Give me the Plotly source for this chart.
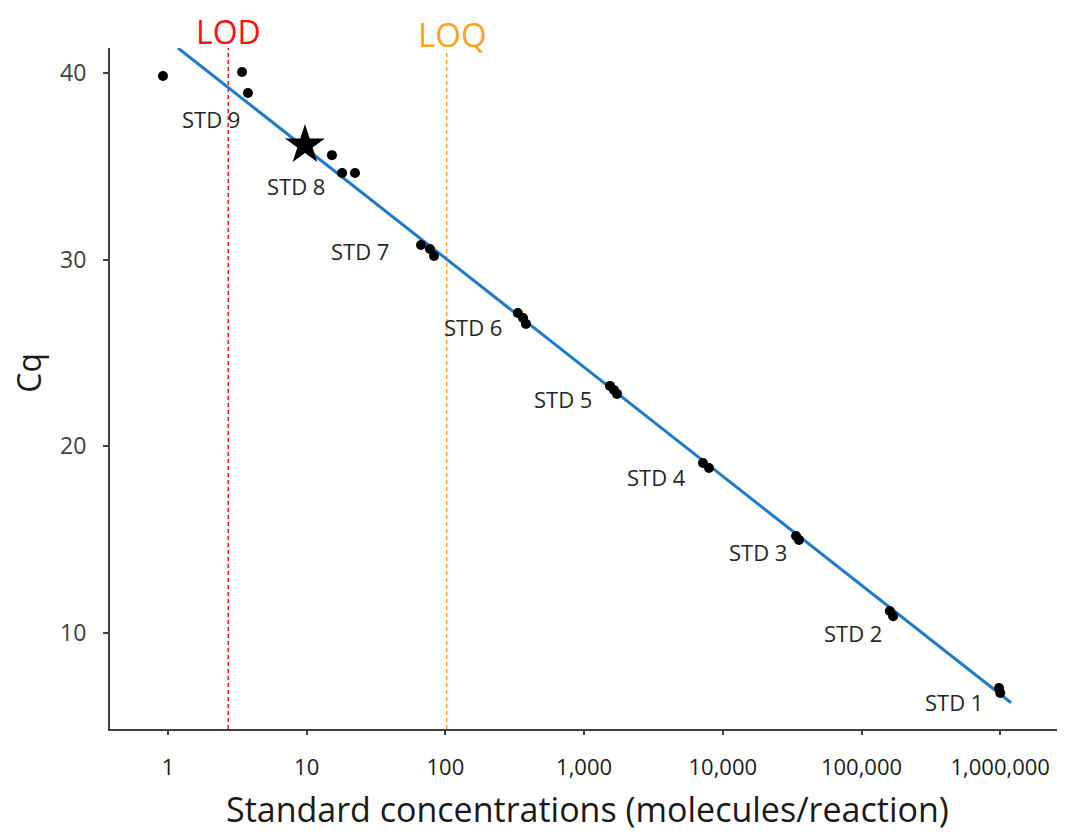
import plotly.graph_objects as go
import numpy as np

# ---- data ----
conc = [0.92, 3.42, 3.77, 15.2, 18.0, 22.3,
        66.7, 77.4, 82.8,
        333, 363, 381,
        1538, 1643, 1726,
        7197, 7950,
        33700, 35400,
        160000, 169000,
        980000, 1000000]
cq = [39.84, 40.05, 38.93, 35.6, 34.64, 34.64,
      30.79, 30.57, 30.2,
      27.14, 26.88, 26.56,
      23.24, 23.02, 22.81,
      19.11, 18.84,
      15.2, 14.99,
      11.18, 10.9,
      7.06, 6.79]

star_conc = [9.72]
star_cq = [36.14]

fit_slope = -5.84
fit_intercept = 41.76
fit_conc = [1.18, 1.197e6]

lod_conc = 2.72
loq_conc = 102

std_labels = ["STD 1", "STD 2", "STD 3", "STD 4", "STD 5",
              "STD 6", "STD 7", "STD 8", "STD 9"]
std_label_conc = [4.65e5, 8.7e4, 1.8e4, 3300, 705, 158, 24.2, 8.37, 2.04]
std_label_cq = [6.31, 10.0, 14.34, 18.36, 22.54, 26.40, 30.47, 33.95, 37.54]

x_tickvals = [1, 10, 100, 1000, 10000, 100000, 1000000]
x_ticktext = ["1", "10", "100", "1,000", "10,000", "100,000", "1,000,000"]
y_tickvals = [10, 20, 30, 40]

x_range_log = [-0.418, 6.467]
y_range = [4.86, 41.34]

FONT = "Open Sans"
AXC = "#404040"

fit_cq = [fit_intercept + fit_slope * np.log10(c) for c in fit_conc]

fig = go.Figure()

# LOD / LOQ vertical dashed lines
fig.add_trace(go.Scatter(x=[lod_conc, lod_conc], y=y_range, mode="lines",
                         line=dict(color="#FF1010", width=1.5, dash="4px,3px"),
                         hoverinfo="skip", showlegend=False))
fig.add_trace(go.Scatter(x=[loq_conc, loq_conc], y=[y_range[0], 41.2], mode="lines",
                         line=dict(color="#FFA01E", width=1.5, dash="4px,3px"),
                         hoverinfo="skip", showlegend=False))

# regression line
fig.add_trace(go.Scatter(x=fit_conc, y=fit_cq, mode="lines",
                         line=dict(color="#1F7BC8", width=3),
                         showlegend=False))

# points
fig.add_trace(go.Scatter(x=conc, y=cq, mode="markers",
                         marker=dict(color="black", size=10),
                         showlegend=False))
fig.add_trace(go.Scatter(x=star_conc, y=star_cq, mode="markers",
                         marker=dict(color="black", size=30, symbol="star"),
                         showlegend=False))

# STD labels
for lab, xc, yc in zip(std_labels, std_label_conc, std_label_cq):
    fig.add_annotation(x=np.log10(xc), y=yc, xref="x", yref="y", text=lab,
                       xanchor="center", yanchor="middle",
                       showarrow=False, font=dict(family=FONT, size=22, color="#262626"))

# LOD / LOQ titles
fig.add_annotation(x=np.log10(lod_conc), y=1.024, xref="x", yref="paper", text="LOD",
                   xanchor="center", yanchor="middle", borderpad=0,
                   showarrow=False, font=dict(family=FONT, size=32, color="#FF1010"))
fig.add_annotation(x=np.log10(loq_conc) + 0.04, y=1.020, xref="x", yref="paper", text="LOQ",
                   xanchor="center", yanchor="middle", borderpad=0,
                   showarrow=False, font=dict(family=FONT, size=33, color="#FFA01E"))

# axis titles
fig.add_annotation(x=0.5, y=-0.118, xref="paper", yref="paper",
                   text="Standard concentrations (molecules/reaction)",
                   xanchor="center", yanchor="middle", borderpad=0,
                   showarrow=False, font=dict(family=FONT, size=34, color="#1a1a1a"))
fig.add_annotation(x=-0.085, y=0.523, xref="paper", yref="paper", text="Cq",
                   xanchor="center", yanchor="middle",
                   textangle=-90, showarrow=False,
                   font=dict(family=FONT, size=32, color="#1a1a1a"))

# page body has an 8px margin; size the figure so the plot area lands
# at x 110..1065, y 48..729 in the window
fig.update_layout(
    width=1057, height=825,
    margin=dict(l=102, r=0, t=40, b=104),
    paper_bgcolor="white", plot_bgcolor="white",
    font=dict(family=FONT),
    xaxis=dict(type="log", range=x_range_log, tickvals=x_tickvals, ticktext=x_ticktext,
               showline=True, linecolor=AXC, linewidth=2, ticks="outside", ticklen=4,
               tickcolor=AXC, tickwidth=1.5, showgrid=False, zeroline=False,
               ticklabelstandoff=14, automargin=False,
               tickfont=dict(family=FONT, size=22, color="#1a1a1a")),
    yaxis=dict(range=y_range, tickvals=y_tickvals,
               showline=True, linecolor=AXC, linewidth=2, ticks="outside", ticklen=5,
               tickcolor=AXC, tickwidth=1.5, showgrid=False, zeroline=False,
               ticklabelstandoff=12, automargin=False,
               tickfont=dict(family=FONT, size=23, color="#404040")),
)

fig.write_html("out.html")
